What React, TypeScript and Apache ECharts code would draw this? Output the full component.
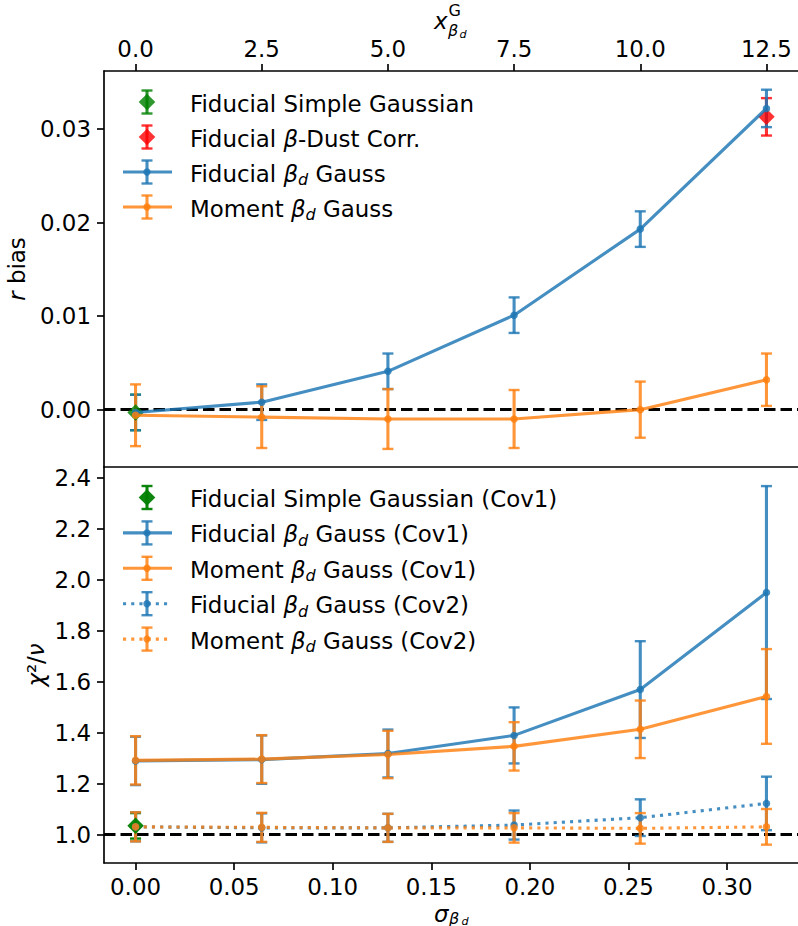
import React, { useEffect, useRef } from "react";
import * as echarts from "echarts";

// ---------------- data ----------------
const sigmaBetaD = [0, 0.064, 0.128, 0.192, 0.256, 0.32];
const topTickValues = [0, 2.5, 5, 7.5, 10, 12.5];
const bottomTickValues = [0, 0.05, 0.1, 0.15, 0.2, 0.25, 0.3];
const rBiasTickValues = [0, 0.01, 0.02, 0.03];
const chi2TickValues = [1.0, 1.2, 1.4, 1.6, 1.8, 2.0, 2.2, 2.4];

// top panel: r bias
const simpleGaussSigma = [0];
const simpleGaussR = [-0.0003];
const simpleGaussRErr = [0.0019];
const dustCorrSigma = [0.32];
const dustCorrR = [0.0313];
const dustCorrRErr = [0.002];
const fidGaussR = [-0.0003, 0.0008, 0.0041, 0.0101, 0.0193, 0.0322];
const fidGaussRErr = [0.0019, 0.0019, 0.0019, 0.0019, 0.0019, 0.0020];
const momGaussR = [-0.0006, -0.0008, -0.001, -0.001, 0.0, 0.0032];
const momGaussRErr = [0.0033, 0.0033, 0.0032, 0.0031, 0.003, 0.0028];

// bottom panel: chi2 / nu
const simpleGaussChi2 = [1.035];
const simpleGaussChi2Err = [0.05];
const fidCov1Chi2 = [1.29, 1.295, 1.319, 1.39, 1.57, 1.951];
const fidCov1Err = [0.095, 0.095, 0.094, 0.11, 0.19, 0.418];
const momCov1Chi2 = [1.292, 1.297, 1.315, 1.347, 1.414, 1.543];
const momCov1Err = [0.095, 0.094, 0.093, 0.095, 0.113, 0.186];
const fidCov2Chi2 = [1.031, 1.027, 1.027, 1.038, 1.067, 1.123];
const fidCov2Err = [0.057, 0.057, 0.055, 0.057, 0.072, 0.105];
const momCov2Chi2 = [1.031, 1.029, 1.027, 1.027, 1.025, 1.031];
const momCov2Err = [0.057, 0.057, 0.055, 0.058, 0.06, 0.07];

const topLegendNames = [
  "Fiducial Simple Gaussian",
  "Fiducial {b|β}-Dust Corr.",
  "Fiducial {b|β}{d|d} Gauss",
  "Moment {b|β}{d|d} Gauss",
];
const bottomLegendNames = [
  "Fiducial Simple Gaussian (Cov1)",
  "Fiducial {b|β}{d|d} Gauss (Cov1)",
  "Moment {b|β}{d|d} Gauss (Cov1)",
  "Fiducial {b|β}{d|d} Gauss (Cov2)",
  "Moment {b|β}{d|d} Gauss (Cov2)",
];

// ---------------- style ----------------
const FONT = "DejaVu Sans";
const FS = 22.9;
const SUB = 16;
const SUBSUB = 11.2;
const LW = 3.1;
const SPINE = 1.67;
const BLUE = "rgba(31,119,180,0.83)";
const ORANGE = "rgba(255,127,14,0.82)";
const GREEN_TOP = "rgba(0,128,0,0.82)";
const GREEN_BOT = "rgba(0,128,0,0.95)";
const RED = "rgba(255,0,0,0.8)";
const DOT: number[] = [3.1, 5.1];
const DASH: number[] = [11.5, 5];

const X_MIN = -0.016;
const X_MAX = 0.336;
const XG_PER_SIGMA = topTickValues[topTickValues.length - 1] / sigmaBetaD[sigmaBetaD.length - 1];

const rich = {
  b: { fontFamily: FONT, fontSize: FS, fontStyle: "italic", fill: "#000", color: "#000" },
  d: { fontFamily: FONT, fontSize: SUB, fontStyle: "italic", fill: "#000", color: "#000", padding: [12, 0, 0, 0] },
};

function errSeries(xs: number[], ys: number[], es: number[], color: string, xi: number, yi: number) {
  return {
    type: "custom",
    coordinateSystem: "cartesian2d",
    xAxisIndex: xi,
    yAxisIndex: yi,
    silent: true,
    clip: false,
    encode: { x: 0, y: 1 },
    data: xs.map((x, i) => [x, ys[i], es[i]]),
    renderItem: (params: any, api: any) => {
      const x = api.value(0);
      const y = api.value(1);
      const e = api.value(2);
      const t = api.coord([x, y + e]);
      const b = api.coord([x, y - e]);
      const cap = 5.5;
      return {
        type: "group",
        children: [
          { type: "line", shape: { x1: t[0], y1: t[1], x2: b[0], y2: b[1] }, style: { stroke: color, lineWidth: LW } },
          { type: "line", shape: { x1: t[0] - cap, y1: t[1], x2: t[0] + cap, y2: t[1] }, style: { stroke: color, lineWidth: 2.4 } },
          { type: "line", shape: { x1: b[0] - cap, y1: b[1], x2: b[0] + cap, y2: b[1] }, style: { stroke: color, lineWidth: 2.4 } },
        ],
      };
    },
  };
}

function lineSeries(xs: number[], ys: number[], color: string, xi: number, yi: number, dash?: number[]) {
  return {
    type: "line",
    xAxisIndex: xi,
    yAxisIndex: yi,
    silent: true,
    data: xs.map((x, i) => [x, ys[i]]),
    symbol: "circle",
    symbolSize: 7.5,
    showSymbol: true,
    lineStyle: { color, width: LW, type: dash ? dash : "solid" },
    itemStyle: { color },
    emphasis: { disabled: true },
  };
}

function diamondSeries(xs: number[], ys: number[], color: string, xi: number, yi: number, refY: number) {
  return {
    type: "scatter",
    xAxisIndex: xi,
    yAxisIndex: yi,
    silent: true,
    symbol: "diamond",
    symbolSize: 16.5,
    data: xs.map((x, i) => [x, ys[i]]),
    itemStyle: { color, opacity: 1 },
    emphasis: { disabled: true },
    markLine: {
      silent: true,
      symbol: "none",
      z: 1,
      label: { show: false },
      lineStyle: { color: "#000", width: LW, type: DASH, opacity: 1 },
      emphasis: { disabled: true },
      data: [{ yAxis: refY }],
    },
  };
}

function diamondOnly(xs: number[], ys: number[], color: string, xi: number, yi: number) {
  return {
    type: "scatter",
    xAxisIndex: xi,
    yAxisIndex: yi,
    silent: true,
    symbol: "diamond",
    symbolSize: 16.5,
    data: xs.map((x, i) => [x, ys[i]]),
    itemStyle: { color, opacity: 1 },
    emphasis: { disabled: true },
  };
}

type Handle = { kind: "diamond" | "line"; color: string; dash?: number[] };

function legendGraphics(names: string[], handles: Handle[], y0: number, dy: number) {
  const out: any[] = [];
  const cx = 147;
  names.forEach((name, i) => {
    const cy = y0 + i * dy;
    const h = handles[i];
    if (h.kind === "line") {
      out.push({
        type: "line",
        shape: { x1: 123, y1: cy, x2: 172, y2: cy },
        style: { stroke: h.color, lineWidth: LW, lineDash: h.dash ? h.dash : null },
        silent: true,
      });
    }
    out.push({ type: "line", shape: { x1: cx, y1: cy - 11.5, x2: cx, y2: cy + 11.5 }, style: { stroke: h.color, lineWidth: LW }, silent: true });
    out.push({ type: "line", shape: { x1: cx - 5.5, y1: cy - 11.5, x2: cx + 5.5, y2: cy - 11.5 }, style: { stroke: h.color, lineWidth: 2.4 }, silent: true });
    out.push({ type: "line", shape: { x1: cx - 5.5, y1: cy + 11.5, x2: cx + 5.5, y2: cy + 11.5 }, style: { stroke: h.color, lineWidth: 2.4 }, silent: true });
    if (h.kind === "line") {
      out.push({ type: "circle", shape: { cx, cy, r: 3.7 }, style: { fill: h.color }, silent: true });
    } else {
      out.push({
        type: "polygon",
        shape: { points: [[cx, cy - 8.3], [cx + 8.3, cy], [cx, cy + 8.3], [cx - 8.3, cy]] },
        style: { fill: h.color },
        silent: true,
      });
    }
    out.push({
      type: "text",
      x: 190,
      y: cy + 1.5,
      silent: true,
      style: {
        text: name,
        fontFamily: FONT,
        fontSize: FS,
        fill: "#000",
        align: "left",
        verticalAlign: "middle",
        textAlign: "left",
        textVerticalAlign: "middle",
        rich,
      },
    });
  });
  return out;
}

function txt(text: string, x: number, y: number, size: number, italic: boolean, extra: any = {}) {
  return {
    type: "text",
    x,
    y,
    silent: true,
    ...extra,
    style: {
      text,
      fontFamily: FONT,
      fontSize: size,
      fontStyle: italic ? "italic" : "normal",
      fill: "#000",
      align: extra.align || "left",
      verticalAlign: "middle",
      textAlign: extra.align || "left",
      textVerticalAlign: "middle",
      rich: extra.rich,
    },
  };
}

const axisLineStyle = { show: true, onZero: false, lineStyle: { color: "#000", width: SPINE } };
const tick = (vals: number[]) => ({ show: true, length: 7, inside: false, customValues: vals, lineStyle: { color: "#000", width: SPINE } });
const label = (vals: number[], digits: number, margin: number) => ({
  show: true,
  customValues: vals,
  formatter: (v: number) => v.toFixed(digits),
  fontFamily: FONT,
  fontSize: FS,
  color: "#000",
  margin,
});

function buildOption() {
  const topLeg = legendGraphics(
    topLegendNames,
    [
      { kind: "diamond", color: GREEN_TOP },
      { kind: "diamond", color: RED },
      { kind: "line", color: BLUE },
      { kind: "line", color: ORANGE },
    ],
    102,
    35
  );
  const botLeg = legendGraphics(
    bottomLegendNames,
    [
      { kind: "diamond", color: GREEN_BOT },
      { kind: "line", color: BLUE },
      { kind: "line", color: ORANGE },
      { kind: "line", color: BLUE, dash: DOT },
      { kind: "line", color: ORANGE, dash: DOT },
    ],
    497.5,
    35.4
  );

  const axisTitles = [
    // r bias
    txt("{i|r} bias", 17, 269, FS, false, {
      rotation: Math.PI / 2,
      align: "center",
      rich: { i: { fontFamily: FONT, fontSize: FS, fontStyle: "italic" } },
    }),
    // chi2 / nu
    txt("{i|χ}²/{i|ν}", 36, 665, FS, false, {
      rotation: Math.PI / 2,
      align: "center",
      rich: { i: { fontFamily: FONT, fontSize: FS, fontStyle: "italic" } },
    }),
    // sigma_beta_d
    txt("σ", 434, 913.5, FS, true),
    txt("β", 449, 918, SUB, true),
    txt("d", 461.5, 921, SUBSUB, true),
    // x^G_beta_d
    txt("x", 434, 21, FS, true),
    txt("G", 448.5, 10, SUB, false),
    txt("β", 448, 30.5, SUB, true),
    txt("d", 459.5, 34, SUBSUB, true),
  ];

  return {
    animation: false,
    backgroundColor: "#ffffff",
    textStyle: { fontFamily: FONT },
    grid: [
      { left: 104, top: 71, width: 696, height: 396, show: false },
      { left: 104, top: 467, width: 696, height: 396, show: false },
    ],
    xAxis: [
      {
        gridIndex: 0,
        type: "value",
        position: "bottom",
        min: X_MIN,
        max: X_MAX,
        axisLine: axisLineStyle,
        axisTick: { show: false },
        axisLabel: { show: false },
        splitLine: { show: false },
      },
      {
        gridIndex: 0,
        type: "value",
        position: "top",
        min: X_MIN * XG_PER_SIGMA,
        max: X_MAX * XG_PER_SIGMA,
        axisLine: axisLineStyle,
        axisTick: tick(topTickValues),
        axisLabel: label(topTickValues, 1, 11),
        splitLine: { show: false },
      },
      {
        gridIndex: 1,
        type: "value",
        position: "bottom",
        min: X_MIN,
        max: X_MAX,
        axisLine: axisLineStyle,
        axisTick: tick(bottomTickValues),
        axisLabel: label(bottomTickValues, 2, 12),
        splitLine: { show: false },
      },
    ],
    yAxis: [
      {
        gridIndex: 0,
        type: "value",
        position: "left",
        min: -0.00613,
        max: 0.0362,
        axisLine: axisLineStyle,
        axisTick: tick(rBiasTickValues),
        axisLabel: label(rBiasTickValues, 2, 13),
        splitLine: { show: false },
      },
      {
        gridIndex: 1,
        type: "value",
        position: "left",
        min: 0.889,
        max: 2.444,
        axisLine: axisLineStyle,
        axisTick: tick(chi2TickValues),
        axisLabel: label(chi2TickValues, 1, 13),
        splitLine: { show: false },
      },
    ],
    series: [
      // top panel
      diamondSeries(simpleGaussSigma, simpleGaussR, GREEN_TOP, 0, 0, 0),
      errSeries(simpleGaussSigma, simpleGaussR, simpleGaussRErr, GREEN_TOP, 0, 0),
      errSeries(dustCorrSigma, dustCorrR, dustCorrRErr, RED, 0, 0),
      diamondOnly(dustCorrSigma, dustCorrR, RED, 0, 0),
      errSeries(sigmaBetaD, fidGaussR, fidGaussRErr, BLUE, 0, 0),
      lineSeries(sigmaBetaD, fidGaussR, BLUE, 0, 0),
      errSeries(sigmaBetaD, momGaussR, momGaussRErr, ORANGE, 0, 0),
      lineSeries(sigmaBetaD, momGaussR, ORANGE, 0, 0),
      // bottom panel
      diamondSeries(simpleGaussSigma, simpleGaussChi2, GREEN_BOT, 2, 1, 1),
      errSeries(simpleGaussSigma, simpleGaussChi2, simpleGaussChi2Err, GREEN_BOT, 2, 1),
      errSeries(sigmaBetaD, fidCov1Chi2, fidCov1Err, BLUE, 2, 1),
      lineSeries(sigmaBetaD, fidCov1Chi2, BLUE, 2, 1),
      errSeries(sigmaBetaD, momCov1Chi2, momCov1Err, ORANGE, 2, 1),
      lineSeries(sigmaBetaD, momCov1Chi2, ORANGE, 2, 1),
      errSeries(sigmaBetaD, fidCov2Chi2, fidCov2Err, BLUE, 2, 1),
      lineSeries(sigmaBetaD, fidCov2Chi2, BLUE, 2, 1, DOT),
      errSeries(sigmaBetaD, momCov2Chi2, momCov2Err, ORANGE, 2, 1),
      lineSeries(sigmaBetaD, momCov2Chi2, ORANGE, 2, 1, DOT),
    ],
    graphic: { elements: [...topLeg, ...botLeg, ...axisTitles] },
  };
}

export default function App() {
  const ref = useRef<HTMLDivElement>(null);
  useEffect(() => {
    if (!ref.current) return;
    const chart = echarts.init(ref.current, null, { renderer: "svg" });
    chart.setOption(buildOption() as any);
    return () => chart.dispose();
  }, []);
  return (
    <div
      ref={ref}
      style={{ position: "absolute", left: 0, top: 0, width: 798, height: 926, background: "#fff", overflow: "hidden" }}
    />
  );
}
